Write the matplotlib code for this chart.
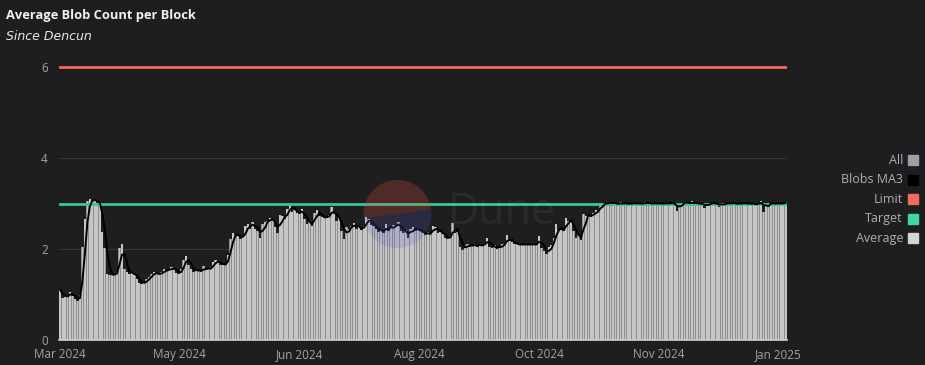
import numpy as np
import pandas as pd
import matplotlib
matplotlib.use("Agg")
import matplotlib.pyplot as plt
from matplotlib.lines import Line2D
from matplotlib.patches import Wedge
from matplotlib.transforms import IdentityTransform

# 데이터: Dencun 이후 일별 평균 블롭 수 (2024-03-13 ~ 2025-01-01)
avg_blobs = [
    # Mar - May
    1.10, 0.92, 0.95, 1.00, 1.05, 0.97, 0.90, 0.86, 1.00,
    2.05, 2.65,
    3.05, 3.10, 3.05, 3.08, 3.02, 2.98,
    2.37, 2.02,
    1.45, 1.42, 1.45, 1.44, 1.50,
    2.02, 2.10,
    1.55, 1.50, 1.45, 1.50, 1.42,
    1.35, 1.25, 1.24, 1.28, 1.33, 1.38,
    1.45, 1.50, 1.46, 1.42, 1.50, 1.55, 1.52,
    1.55, 1.60, 1.55, 1.48, 1.45, 1.55,
    1.76, 1.85,
    1.65, 1.55, 1.50, 1.56, 1.52, 1.50,
    1.62, 1.55, 1.55, 1.60,
    1.72, 1.75, 1.70, 1.65, 1.65,
    1.68, 1.87, 2.22, 2.35, 2.30,
    # May - Aug
    2.30, 2.22, 2.28,
    2.50, 2.55, 2.45, 2.60,
    2.45, 2.40, 2.25,
    2.55, 2.60, 2.62,
    2.68, 2.65,
    2.48, 2.35,
    2.75, 2.72,
    2.65,
    2.88, 3.02,
    2.82, 2.85, 2.80,
    2.78, 2.88,
    2.65, 2.55, 2.60, 2.50,
    2.80, 2.85,
    2.72, 2.70, 2.68, 2.72, 2.75,
    2.92,
    2.78, 2.62, 2.70,
    2.40, 2.22,
    2.48, 2.45, 2.50,
    2.58,
    2.45, 2.48, 2.42, 2.50,
    2.70, 2.65,
    2.52, 2.50, 2.45,
    2.38, 2.42, 2.35, 2.55, 2.40,
    2.48, 2.52, 2.50, 2.60,
    2.40, 2.35, 2.42, 2.25,
    2.45, 2.48, 2.40, 2.42,
    # Aug - Oct
    2.40, 2.35, 2.30, 2.38, 2.32,
    2.50, 2.48,
    2.35, 2.38, 2.33,
    2.25, 2.22, 2.28,
    2.57,
    2.35, 2.38,
    2.05, 1.98,
    2.08, 2.10, 2.05, 2.08, 2.12, 2.05, 2.10, 2.08, 2.12,
    2.25,
    2.05, 2.02, 2.08, 2.00, 2.05,
    2.10, 2.12, 2.30,
    2.18, 2.15, 2.12,
    2.10, 2.08, 2.12, 2.10, 2.08, 2.12, 2.10, 2.08, 2.12,
    2.28,
    2.02, 1.95, 1.88,
    2.05, 2.08,
    2.25, 2.55, 2.42,
    2.42, 2.40, 2.68,
    2.62, 2.60,
    2.40, 2.25, 2.30,
    2.20,
    2.78, 2.72, 2.75, 2.70,
    2.80, 2.85, 2.82,
    3.02,
    # Oct - Jan
    2.98, 3.02, 3.00, 3.04, 2.99, 3.01, 2.97, 3.03, 3.00, 2.98,
    3.01, 3.00, 2.99, 3.02, 3.00, 2.98, 3.01, 3.03, 3.00, 2.99,
    3.00, 3.02, 2.98, 3.01, 3.00, 2.99, 3.02, 3.00, 3.01, 2.98,
    2.83, 3.00, 3.02, 3.04, 3.00, 2.99, 3.05, 3.00, 2.98, 3.01,
    3.00, 2.90, 3.00, 3.02, 2.99, 3.01, 3.00, 2.93, 3.01, 3.00,
    2.99, 3.02, 3.00, 3.01, 2.98, 3.00, 3.02, 2.99, 3.00, 3.01,
    2.98, 3.00, 2.97, 3.02, 3.05, 2.82, 3.00, 3.01, 2.99, 3.00,
    3.01, 2.99, 3.00, 3.02, 3.03,
]
LIMIT = 6
TARGET = 3
tick_labels = ["Mar 2024", "May 2024", "Jun 2024", "Aug 2024",
               "Oct 2024", "Nov 2024", "Jan 2025"]
legend_labels = ["All", "Blobs MA3", "Limit", "Target", "Average"]
legend_colors = ["#9c9fa4", "#000000", "#f26b5e", "#3fd6a0", "#d4d4d4"]

days = np.arange(len(avg_blobs))
ma3 = pd.Series(avg_blobs).rolling(3, min_periods=1).mean()

BG = "#1e1e20"
plt.rcParams["font.family"] = ["Open Sans", "DejaVu Sans"]

fig = plt.figure(figsize=(9.25, 3.65), dpi=100, facecolor=BG)
ax = fig.add_axes([59 / 925, 25 / 365, 728 / 925, 6.15 * 45.5 / 365])
ax.set_facecolor(BG)

# 막대 (All + Average 겹쳐서 줄무늬 효과)
ax.bar(days, avg_blobs, width=1.0, color="#8e8e90", linewidth=0, zorder=2)
ax.bar(days, avg_blobs, width=0.68, color="#c6c6c6", linewidth=0, zorder=3)

ax.plot(days, np.full(len(days), LIMIT), color="#f26b5e", lw=2, zorder=4)
ax.plot(days, np.full(len(days), TARGET), color="#35c896", lw=2, zorder=4)
ax.plot(days, ma3, color="#000000", lw=1.4, zorder=5)

ax.set_xlim(-0.5, len(days) - 0.5)
ax.set_ylim(0, 6.15)
ax.set_yticks([0, 2, 4, 6])
ax.set_xticks(np.arange(len(tick_labels)) * 48.5)
ax.set_xticklabels(tick_labels)
ax.tick_params(colors="#a4a4a8", labelsize=8.4, length=0)
ax.tick_params(axis="y", pad=8)
ax.tick_params(axis="x", pad=6)
ax.grid(axis="y", color="#363638", lw=0.8, zorder=0)
for s in ["top", "right", "left"]:
    ax.spines[s].set_visible(False)
ax.spines["bottom"].set_color("#cfcfcf")
ax.spines["bottom"].set_linewidth(1.2)
ax.spines["bottom"].set_zorder(6)

# Dune 워터마크
tr = IdentityTransform()
cx, cy, r = 397.5, 365 - 214, 34
fig.add_artist(Wedge((cx, cy), r, 8, 188, transform=tr,
                     facecolor="#e2533c", alpha=0.25, lw=0, zorder=7))
fig.add_artist(Wedge((cx, cy), r, 188, 368, transform=tr,
                     facecolor="#5b5bd0", alpha=0.2, lw=0, zorder=7))
fig.text(448 / 925, 1 - 213 / 365, "Dune", fontsize=31, color="white",
         alpha=0.05, ha="left", va="center", zorder=7)

# 제목
fig.text(6 / 925, 1 - 15 / 365, "Average Blob Count per Block", fontsize=9.3,
         fontweight="bold", color="#f2f2f2", ha="left", va="center")
fig.text(6 / 925, 1 - 36 / 365, "Since Dencun", fontsize=9,
         style="italic", color="#e8e8e8", ha="left", va="center",
         family=["DejaVu Sans"])

# 범례 (오른쪽)
for i, (lab, col) in enumerate(zip(legend_labels, legend_colors)):
    y = 1 - (160 + 19.6 * i) / 365
    fig.text(903 / 925, y, lab, fontsize=9, color="#b0b0b4",
             ha="right", va="center")
    fig.add_artist(Line2D([912.5 / 925], [y], marker="s", markersize=7,
                          color=col, transform=fig.transFigure))

fig.savefig("out.png", dpi=100, facecolor=BG)
